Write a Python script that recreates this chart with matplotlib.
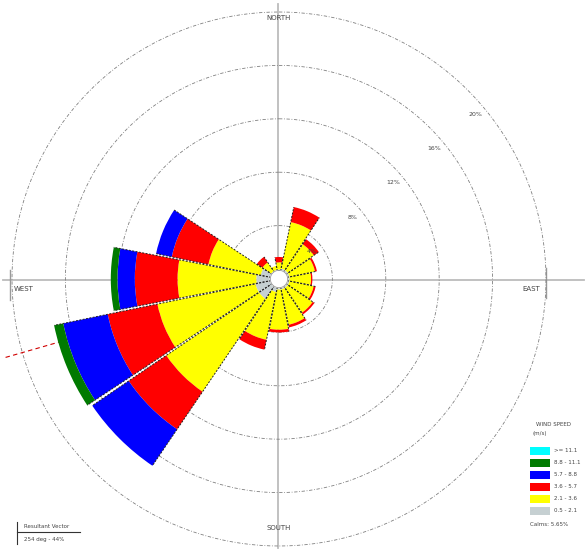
import numpy as np
import matplotlib
matplotlib.use("Agg")
import matplotlib.pyplot as plt

# wind directions, clockwise from north
directions = ['N', 'NNE', 'NE', 'ENE', 'E', 'ESE', 'SE', 'SSE',
              'S', 'SSW', 'SW', 'WSW', 'W', 'WNW', 'NW', 'NNW']
dir_deg = np.arange(16) * 22.5

# frequency (%) of each speed class per direction
freq_05_21 = [0.6, 0.8, 0.8, 0.8, 0.8, 0.8, 0.8, 0.8, 0.8, 1.0, 1.8, 1.8, 1.7, 1.4, 0.7, 0.6]
freq_21_36 = [0.65, 3.55, 2.35, 1.95, 1.6, 1.85, 2.25, 2.7, 3.0, 3.65, 8.4, 7.5, 5.9, 4.0, 0.8, 0.4]
freq_36_57 = [0.4, 1.15, 0.45, 0.15, 0.1, 0.15, 0.15, 0.2, 0.2, 0.75, 3.4, 3.8, 3.2, 2.8, 0.5, 0.0]
freq_57_88 = [0, 0, 0, 0, 0, 0, 0, 0, 0, 0, 3.3, 3.4, 1.3, 1.2, 0, 0]
freq_88_111 = [0, 0, 0, 0, 0, 0, 0, 0, 0, 0, 0, 0.7, 0.5, 0, 0, 0]
freq_111 = [0] * 16

class_labels = ['0.5 - 2.1', '2.1 - 3.6', '3.6 - 5.7', '5.7 - 8.8', '8.8 - 11.1', '>= 11.1']
class_colors = ['#c6d0d2', '#ffff00', '#ff0000', '#0000ff', '#007a00', '#00ffff']
ring_pct = [4, 8, 12, 16, 20]
resultant_dir = 254
resultant_pct = 44

classes = [freq_05_21, freq_21_36, freq_36_57, freq_57_88, freq_88_111, freq_111]
calms = 100 - sum(sum(c) for c in classes)

W, H = 587, 550
cx, cy, R = 279, 279, 267

fig = plt.figure(figsize=(W / 100, H / 100), dpi=100)
fig.patch.set_facecolor('white')

# background layer in pixel coordinates for the cross, labels and legend
bg = fig.add_axes([0, 0, 1, 1])
bg.set_xlim(0, W)
bg.set_ylim(H, 0)
bg.axis('off')

bg.plot([3, 584], [280, 280], color='#bcbcbc', lw=1.3, zorder=1)
bg.plot([278, 278], [4, 548], color='#bcbcbc', lw=1.3, zorder=1)
bg.plot([10, 10], [270, 300], color='#999999', lw=1.0)
bg.plot([546, 546], [268, 298], color='#999999', lw=1.0)

txt = dict(fontsize=5, color='#444444', ha='center', va='center')
bg.text(279, 18, 'NORTH', **txt)
bg.text(279, 528, 'SOUTH', **txt)
bg.text(24, 289, 'WEST', **txt)
bg.text(531, 289, 'EAST', **txt)

# polar rose
ax = fig.add_axes([(cx - R) / W, (H - cy - R) / H, 2 * R / W, 2 * R / H],
                  projection='polar', zorder=2)
ax.patch.set_alpha(0)
ax.set_theta_zero_location('N')
ax.set_theta_direction(-1)
ax.set_ylim(0, 20)
ax.grid(False)
ax.set_xticks([])
ax.set_yticks([])
ax.spines['polar'].set_visible(False)

circ = np.linspace(0, 2 * np.pi, 361)
for r in ring_pct:
    ax.plot(circ, np.full_like(circ, r), color='#808080', lw=0.6,
            ls=(0, (4, 2, 1, 2)), zorder=1, clip_on=False)
lab_th = np.deg2rad(50)
for r in ring_pct:
    ax.text(lab_th, r - 0.8, f'{r}%', fontsize=4.5, color='#444444',
            ha='center', va='center', zorder=6)

# resultant vector
th_res = np.deg2rad(resultant_dir)
ax.plot([th_res, th_res], [0, 21.5], color='#d00000', lw=0.8,
        ls=(0, (4, 3)), zorder=1.5, clip_on=False)

theta = np.deg2rad(dir_deg)
width = np.deg2rad(22.5) * 0.965
bottom = np.zeros(16)
for vals, col in zip(classes, class_colors):
    vals = np.array(vals, dtype=float)
    ax.bar(theta, vals, width=width, bottom=bottom, color=col,
           edgecolor='none', zorder=3)
    bottom += vals

# dashed dark edges along the petal sides
for th, tot in zip(theta, bottom):
    for side in (-width / 2, width / 2):
        ax.plot([th + side, th + side], [0.6, tot], color='#222222',
                lw=0.7, ls=(0, (2, 1.5)), zorder=4)

# calm circle in the middle
ax.fill(circ, np.full_like(circ, 0.65), color='white', zorder=5)
ax.plot(circ, np.full_like(circ, 0.65), color='#999999', lw=0.6, zorder=5)

# legend
bg.text(553, 425, 'WIND SPEED', fontsize=4, color='#444444', ha='center', va='center')
bg.text(540, 433, '(m/s)', fontsize=4, color='#444444', ha='center', va='center')
for k, (lab, col) in enumerate(zip(class_labels[::-1], class_colors[::-1])):
    y = 447 + k * 12
    bg.add_patch(plt.Rectangle((530, y), 20, 8, facecolor=col, edgecolor='none'))
    bg.text(554, y + 4, lab, fontsize=4, color='#444444', ha='left', va='center')
bg.text(530, 525, f'Calms: {calms:.2f}%', fontsize=4, color='#444444',
        ha='left', va='center')

# resultant vector box
bg.plot([17, 17], [522, 544], color='#333333', lw=0.8)
bg.plot([17, 80], [532, 532], color='#333333', lw=0.8)
bg.text(24, 526, 'Resultant Vector', fontsize=4, color='#444444', ha='left', va='center')
bg.text(24, 540, f'{resultant_dir} deg - {resultant_pct}%', fontsize=4,
        color='#444444', ha='left', va='center')

fig.savefig('out.png', dpi=100)
